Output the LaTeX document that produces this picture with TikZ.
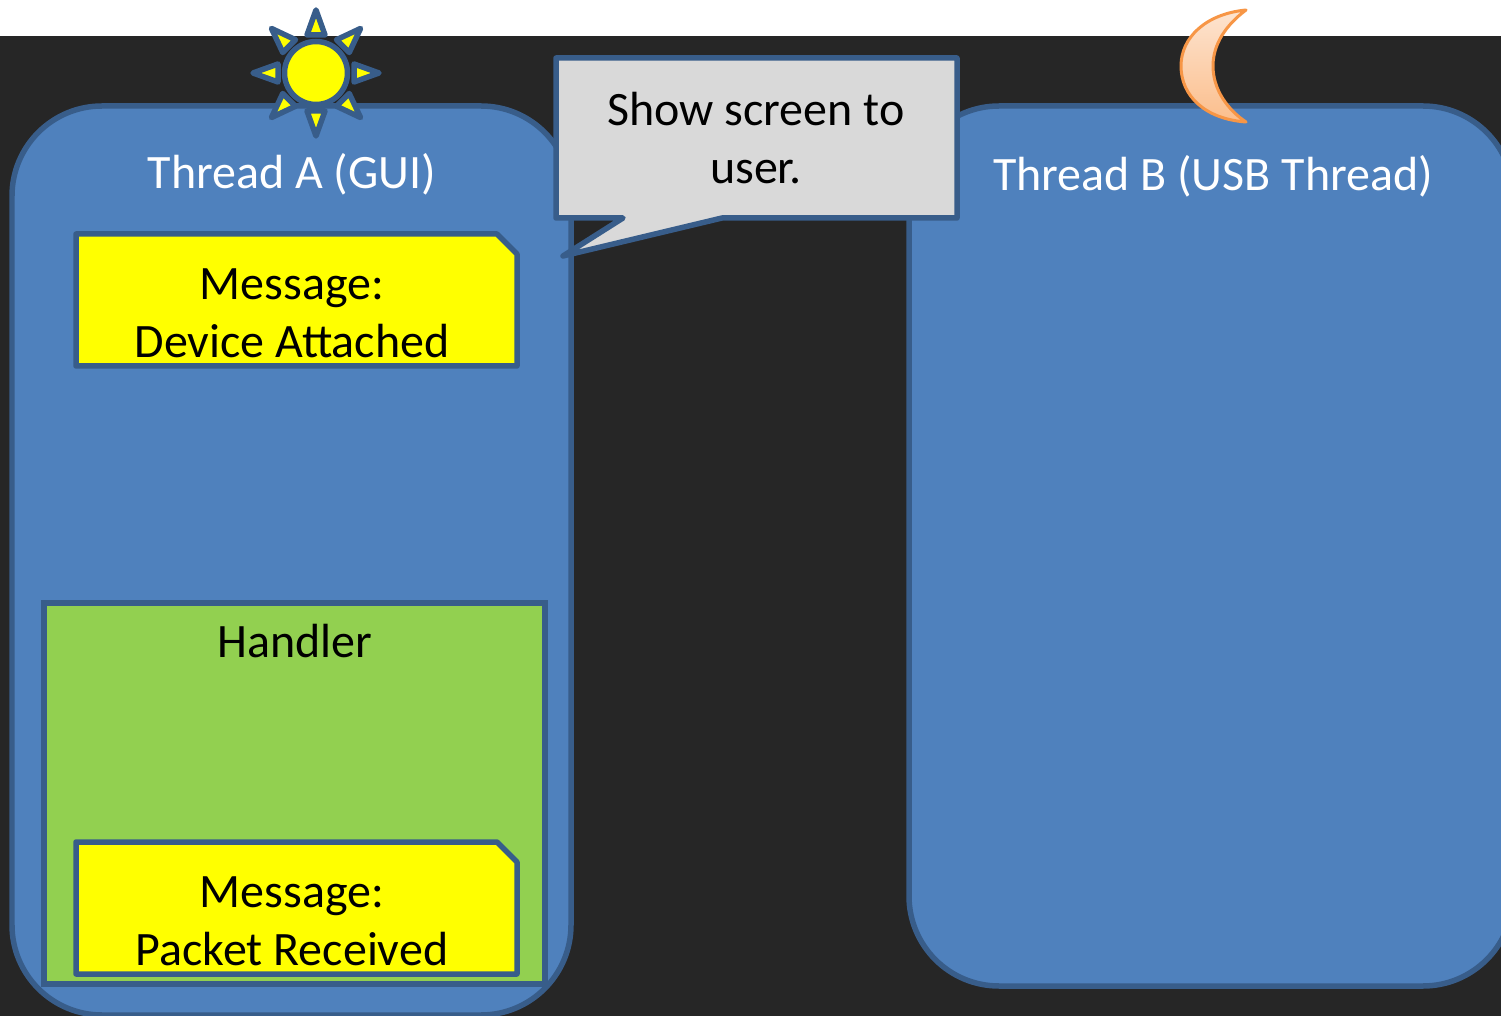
\documentclass[tikz,border=0pt]{standalone}
\usepackage{fontspec}
\setmainfont{Carlito}
\definecolor{threadblue}{HTML}{4F81BD}
\definecolor{edgeblue}{HTML}{385D8A}
\definecolor{darkback}{HTML}{262626}
\definecolor{handlergreen}{HTML}{92D050}
\definecolor{bubblegrey}{HTML}{D9D9D9}
\definecolor{noteyellow}{HTML}{FFFF00}
\definecolor{moonedge}{HTML}{F79646}
\definecolor{moontop}{HTML}{FDE4D0}
\definecolor{moonbottom}{HTML}{FBBE8C}
\tikzset{outlined/.style={draw=edgeblue, line width=0.11cm, line join=round}}
\tikzset{thread/.style={outlined, fill=threadblue, rounded corners=1.8cm}}
\tikzset{handler/.style={outlined, line join=miter, fill=handlergreen}}
\tikzset{message/.style={outlined, fill=noteyellow}}
\tikzset{bubble/.style={outlined, fill=bubblegrey}}
\tikzset{label/.style={font=\fontsize{27.3}{33}\selectfont, align=center, text=black}}
\tikzset{whitelabel/.style={label, text=white}}

\begin{document}
\begin{tikzpicture}[x=0.02cm, y=-0.02cm]
            \clip (0, 0) rectangle (1501, 1016);
            \fill[white] (0, 0) rectangle (1501, 36);
            \fill[darkback] (0, 36) rectangle (1501, 1016);
            % threads
            \draw[thread] (12, 106) rectangle (571, 1015);
            \draw[thread] (909, 106) rectangle (1513, 986);
            \node[whitelabel] (threadA) at (292, 174) {Thread A (GUI)};
            \node[whitelabel] (threadB) at (1213, 176) {Thread B (USB Thread)};
            % sun
            \draw[outlined, fill=noteyellow] (316, 73) circle (31.5);
            \foreach \ang in {0, 45, ..., 315} {
                \draw[outlined, fill=noteyellow, rotate around={\ang:(316, 73)}] (316, 10) -- (325, 35) -- (307, 35) -- cycle;
            }
            % moon
            \draw[draw=moonedge, line width=0.06cm, line join=round, top color=moontop, bottom color=moonbottom] (1246, 10) .. controls (1205, 14) and (1181, 38) .. (1181, 66) .. controls (1181, 96) and (1205, 119) .. (1246, 122) .. controls (1228, 110) and (1213, 90) .. (1213, 66) .. controls (1213, 44) and (1226, 25) .. (1246, 10) -- cycle;
            % handler and messages
            \draw[handler] (44, 603) rectangle (545, 984);
            \node[label] (handlerText) at (295, 641) {Handler};
            \draw[message] (76, 234) -- (497, 234) -- (517, 254) -- (517, 366) -- (76, 366) -- cycle;
            \node[label] (deviceMsg) at (292, 313.5) {Message:\\Device Attached};
            \draw[message] (76, 842) -- (497, 842) -- (517, 862) -- (517, 974) -- (76, 974) -- cycle;
            \node[label] (packetMsg) at (292, 921.5) {Message:\\Packet Received};
            % callout
            \draw[bubble] (556, 58) -- (957, 58) -- (957, 218) -- (722, 218) -- (563, 256) -- (623, 218) -- (556, 218) -- cycle;
            \node[label] (showText) at (756, 138.5) {Show screen to\\user.};
        \end{tikzpicture}
\end{document}
